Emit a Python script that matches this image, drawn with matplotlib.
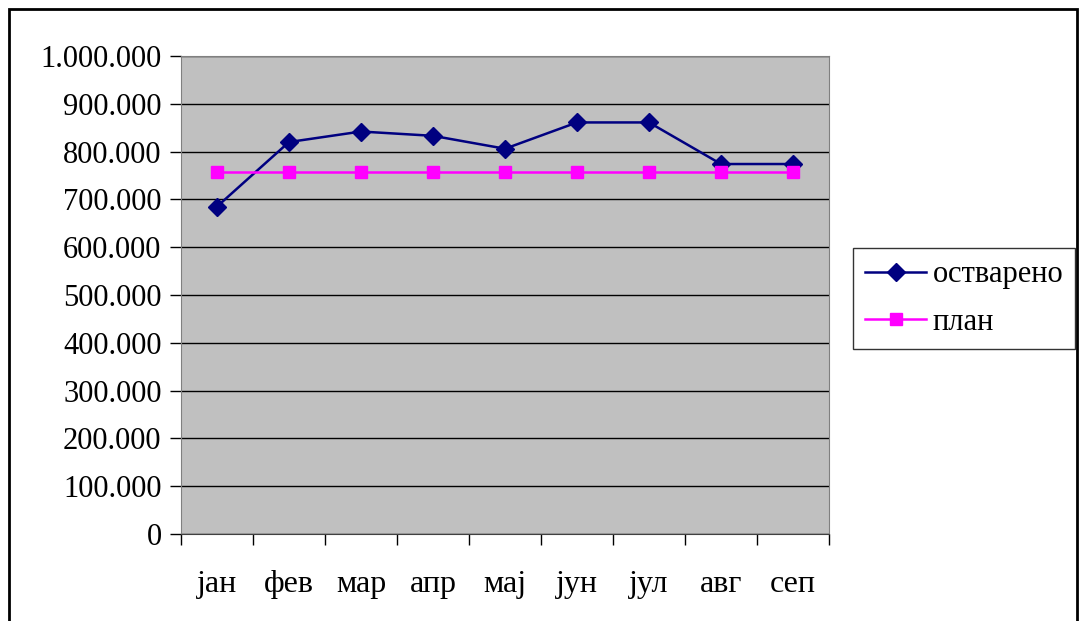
import matplotlib.pyplot as plt
from matplotlib.patches import Rectangle
from matplotlib.ticker import FuncFormatter, FixedLocator

months = ['јан', 'фев', 'мар', 'апр', 'мај', 'јун', 'јул', 'авг', 'сеп']
ostvareno = [685000, 820000, 842000, 833000, 806000, 861000, 861000, 774000, 774000]
plan = [757000, 757000, 757000, 757000, 757000, 757000, 757000, 757000, 757000]

plt.rcParams['font.family'] = ['Liberation Serif', 'DejaVu Serif']
fs = 22

fig = plt.figure(figsize=(10.8, 6.21), dpi=100)
ax = fig.add_axes([181 / 1080, 1 - 534 / 621, 648 / 1080, 478 / 621])
ax.set_facecolor('#c0c0c0')

x = list(range(len(months)))
ax.plot(x, ostvareno, color='#000080', lw=1.8, marker='D', ms=9, label='остварено')
ax.plot(x, plan, color='#ff00ff', lw=1.8, marker='s', ms=9, label='план')

ax.set_xlim(-0.5, len(months) - 0.5)
ax.set_ylim(0, 1000000)
ax.set_yticks(range(0, 1000001, 100000))
ax.yaxis.set_major_formatter(FuncFormatter(lambda v, p: f'{int(v):,}'.replace(',', '.')))
ax.grid(axis='y', color='black', lw=1)
ax.set_axisbelow(True)

# category labels centred, ticks between categories
ax.xaxis.set_major_locator(FixedLocator([i - 0.5 for i in range(len(months) + 1)]))
ax.xaxis.set_minor_locator(FixedLocator(x))
ax.set_xticklabels([])
ax.set_xticklabels(months, minor=True)
ax.tick_params(axis='x', which='minor', length=0, pad=26, labelsize=23)
ax.tick_params(axis='x', which='major', length=8, width=1, color='black')
ax.tick_params(axis='y', length=8, width=1, pad=6, labelsize=fs)

for s in ['top', 'right', 'left']:
    ax.spines[s].set_color('#808080')
ax.spines['bottom'].set_color('#404040')

leg = fig.legend(loc='upper left', bbox_to_anchor=(853 / 1080, 1 - 248 / 621),
                 fontsize=22, frameon=True, fancybox=False, edgecolor='black',
                 handlelength=2.0, borderpad=0.4, labelspacing=0.6, handletextpad=0.2,
                 borderaxespad=0)
leg.get_frame().set_linewidth(1)

fig.patches.append(Rectangle((9 / 1080, -0.02), 1068 / 1080, 1.0 - 9 / 621 + 0.02,
                             transform=fig.transFigure, fill=False, edgecolor='black', lw=2))

plt.savefig('out.png', dpi=100)
